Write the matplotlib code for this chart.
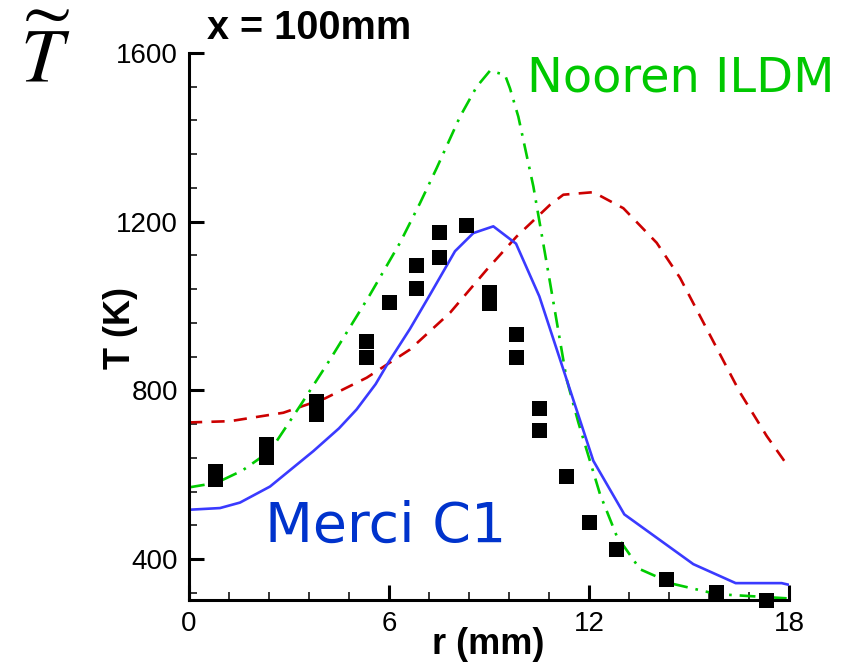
import matplotlib
matplotlib.use('Agg')
import matplotlib.pyplot as plt
from matplotlib.ticker import MultipleLocator

# measured temperature (squares)
r_exp = [0.78, 0.78, 2.3, 2.3, 3.8, 3.8, 5.3, 5.3, 6.0, 6.8, 6.8, 7.5, 7.5,
         8.3, 9.0, 9.0, 9.8, 9.8, 10.5, 10.5, 11.3, 12.0, 12.8, 14.3, 15.8, 17.3]
T_exp = [590, 610, 642, 672, 745, 776, 879, 917, 1009, 1043, 1097, 1116, 1175,
         1193, 1008, 1033, 879, 934, 706, 759, 597, 489, 424, 353, 321, 304]

# Merci C1 (blue solid)
r_merci = [0.0, 0.93, 1.53, 2.43, 3.73, 4.5, 5.03, 5.6, 5.98, 6.63, 7.23, 7.98,
           8.53, 9.13, 9.81, 10.51, 12.13, 13.06, 15.13, 16.4, 17.78, 18.0]
T_merci = [517, 521, 534, 572, 656, 710, 755, 815, 866, 946, 1027, 1130,
           1173, 1189, 1148, 1023, 633, 506, 388, 343, 343, 339]

# Nooren ILDM (green dash-dot)
r_nooren = [0.0, 0.83, 1.6, 2.43, 3.33, 4.23, 5.43, 6.33, 6.93, 7.43, 8.13,
            8.63, 9.03, 9.48, 9.63, 9.88, 10.33, 10.78, 11.33, 11.68, 12.33,
            12.83, 13.53, 14.53, 15.83, 17.93]
T_nooren = [570, 581, 610, 656, 763, 873, 1027, 1150, 1244, 1327, 1449,
            1520, 1558, 1548, 1516, 1449, 1284, 1079, 826, 724, 554,
            455, 376, 341, 317, 307]

# third model (red dashed)
r_red = [0.0, 1.23, 2.83, 4.08, 5.33, 6.63, 7.83, 8.93, 9.83, 10.83, 11.23,
         12.13, 13.03, 14.03, 14.73, 16.53, 17.33, 18.0]
T_red = [724, 727, 747, 781, 830, 897, 984, 1086, 1165, 1240, 1264,
         1270, 1232, 1150, 1067, 795, 692, 617]

plt.rcParams['mathtext.fontset'] = 'stix'

fig = plt.figure(figsize=(8.46, 6.63), dpi=100)
ax = fig.add_axes([189/846, 1 - 600/663, 600/846, 547/663])

ax.plot(r_red, T_red, color='#cc0000', lw=1.9, dashes=(5, 3.5))
ax.plot(r_nooren, T_nooren, color='#00cc00', lw=1.9, dashes=(6, 3, 1, 3))
ax.plot(r_merci, T_merci, color='#3a3aff', lw=1.9)
ax.plot(r_exp, T_exp, 's', color='black', ms=10.8, mew=0, clip_on=False, zorder=5)

ax.set_xlim(0, 18)
ax.set_ylim(303, 1600)
ax.xaxis.set_major_locator(MultipleLocator(6))
ax.xaxis.set_minor_locator(MultipleLocator(1.2))
ax.yaxis.set_major_locator(MultipleLocator(400))
ax.yaxis.set_minor_locator(MultipleLocator(80))

for s in ['top', 'right']:
    ax.spines[s].set_visible(False)
for s in ['left', 'bottom']:
    ax.spines[s].set_linewidth(2.2)

ax.tick_params(which='major', direction='in', length=11, width=2.2,
               labelsize=20, pad=8)
ax.tick_params(which='minor', direction='in', length=6, width=1.1)
for lab in ax.get_xticklabels() + ax.get_yticklabels():
    lab.set_fontfamily('Liberation Sans')

ax.set_xlabel('r (mm)', fontsize=26, fontweight='bold', family='Liberation Sans',
              va='center')
ax.xaxis.set_label_coords((488 - 189)/600, (600 - 645)/547)
ax.set_ylabel('T (K)', fontsize=26, fontweight='bold', family='Liberation Sans',
              va='center')
ax.yaxis.set_label_coords((120 - 189)/600, (600 - 328)/547)

fig.text(207/846, 1 - 39/663, 'x = 100mm', fontsize=28.5, fontweight='bold',
         family='Liberation Sans', ha='left', va='baseline')
fig.text(527/846, 1 - 92/663, 'Nooren ILDM', fontsize=34.5, color='#00c800',
         ha='left', va='baseline')
fig.text(265/846, 1 - 542/663, 'Merci C1', fontsize=40, color='#0033cc',
         ha='left', va='baseline')

fig.text(20/846, 1 - 82/663, r'$\widetilde{T}$', fontsize=55, ha='left',
         va='baseline')

fig.savefig('out.png', dpi=100)
